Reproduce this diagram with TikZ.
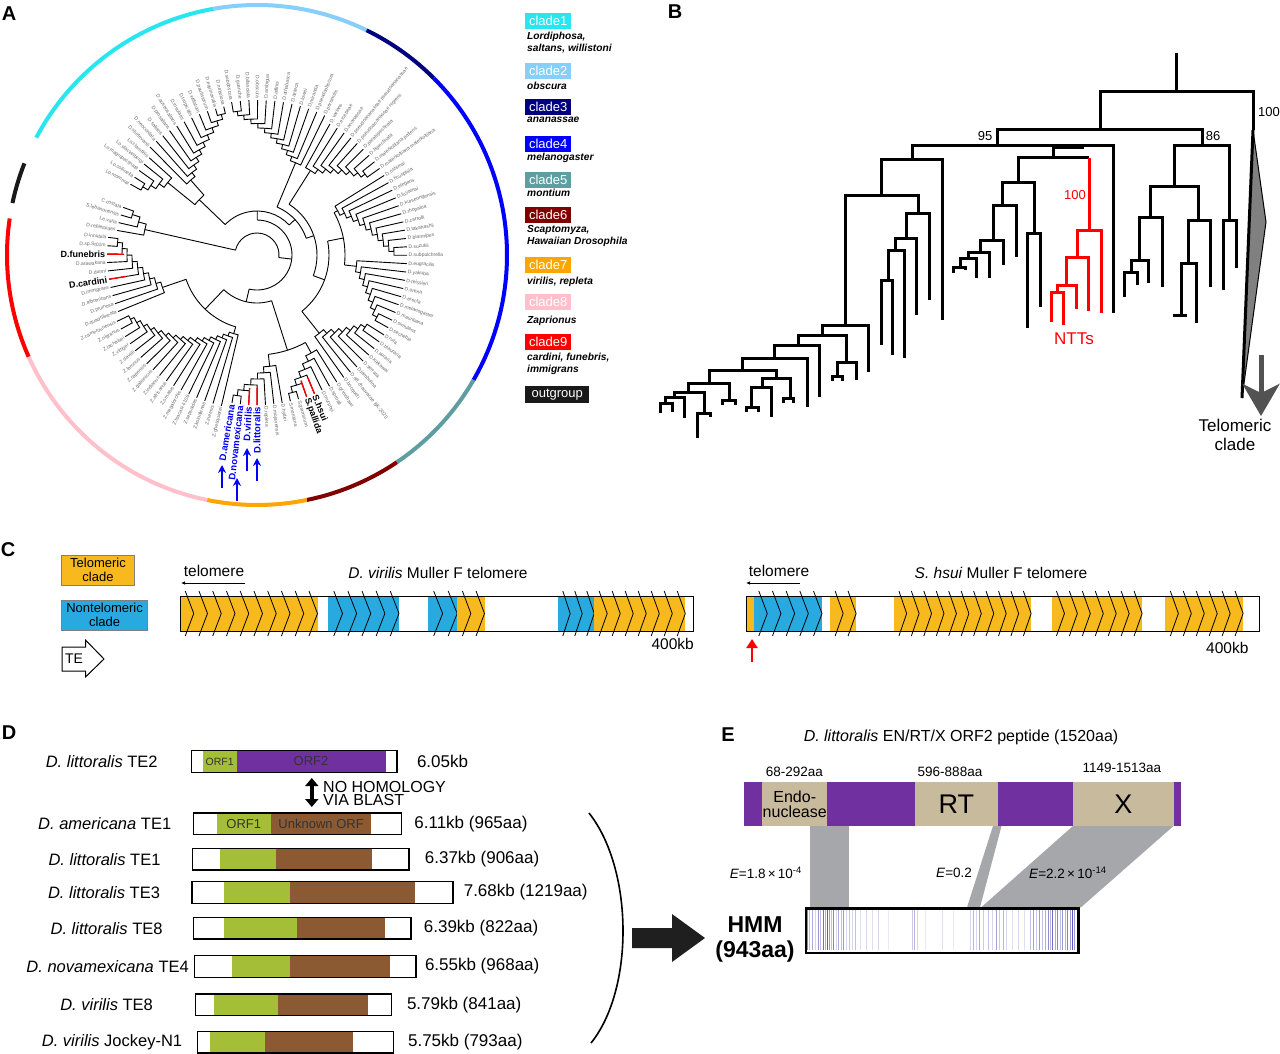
\documentclass[tikz,border=0pt]{standalone}
\usepackage{fontspec}
\setmainfont{Liberation Sans}
\usetikzlibrary{arrows.meta,positioning,calc}

\definecolor{cladeA}{RGB}{40,230,240}
\definecolor{cladeB}{RGB}{135,206,250}
\definecolor{cladeC}{RGB}{0,0,128}
\definecolor{cladeD}{RGB}{0,0,255}
\definecolor{cladeE}{RGB}{95,158,160}
\definecolor{cladeF}{RGB}{128,0,0}
\definecolor{cladeG}{RGB}{255,165,0}
\definecolor{cladeH}{RGB}{255,192,203}
\definecolor{cladeI}{RGB}{255,0,0}
\definecolor{outgrp}{RGB}{25,25,25}
\definecolor{leafgray}{RGB}{105,105,105}
\definecolor{telorange}{RGB}{247,185,30}
\definecolor{ntblue}{RGB}{40,170,225}
\definecolor{orfgreen}{RGB}{165,190,55}
\definecolor{orfbrown}{RGB}{140,90,50}
\definecolor{orfpurple}{RGB}{112,48,160}
\definecolor{domtan}{RGB}{200,186,156}
\definecolor{linkgray}{RGB}{165,167,170}
\definecolor{hmmblue}{RGB}{50,50,170}

% circular tree helpers (angles in degrees, radii in px)
\newcommand\angof[1]{\csname ang#1\endcsname}
\newcommand\comb[8]{% first angle, step, tip r, base r, dr, parent r, tag, leaves
  \xdef\cbn{0}%
  \foreach \cbnm/\cbst/\cbrd in {#8}{\xdef\cbn{\the\numexpr\cbn+1\relax}}%
  \pgfmathsetmacro\cblast{#1+(\cbn-1)*(#2)}%
  \xdef\cbprev{\cblast}%
  \xdef\cbprevr{#3}%
  \pgfmathtruncatemacro\cbnn{\cbn-1}%
  \foreach \j in {\cbnn,...,1}{%
    \pgfmathsetmacro\cbaj{#1+(\j-1)*(#2)}%
    \pgfmathsetmacro\cbrj{#4+(\j-1)*(#5)}%
    \draw[treeA] (\cbaj:#3) -- (\cbaj:\cbrj) arc[start angle=\cbaj, end angle=\cbprev, radius=\cbrj] -- (\cbprev:\cbprevr);%
    \pgfmathsetmacro\cbmj{(\cbaj+\cbprev)/2}%
    \xdef\cbprev{\cbmj}%
    \xdef\cbprevr{\cbrj}%
  }%
  \draw[treeA] (\cbprev:\cbprevr) -- (\cbprev:#6);%
  \expandafter\xdef\csname ang#7\endcsname{\cbprev}%
  \pgfmathsetmacro\cbrr{#3-17}%
  \pgfmathsetmacro\cbrl{#3+1.2}%
  \foreach \cbnm/\cbst/\cbrd [count=\i] in {#8}{%
    \pgfmathsetmacro\cba{#1+(\i-1)*(#2)}%
    \pgfmathtruncatemacro\cbleft{cos(\cba)<0.01}%
    \ifnum\cbleft=1 \def\cbanc{east}\pgfmathsetmacro\cbrot{\cba-180}\else\def\cbanc{west}\let\cbrot\cba\fi
    \ifnum\cbrd=1 \draw[treeA, draw=red, line width=1.4pt] (\cba:\cbrr) -- (\cba:#3);\fi
    \node[\cbst, anchor=\cbanc, rotate=\cbrot] (#7-\i) at (\cba:\cbrl) {\cbnm};%
  }%
}
\newcommand\jn[5]{% angle a, angle b, r, parent r, tag
  \pgfmathsetmacro\jna{#1}\pgfmathsetmacro\jnb{#2}%
  \pgfmathsetmacro\jnm{(\jna+\jnb)/2}%
  \draw[treeA] (\jna:#3) arc[start angle=\jna, end angle=\jnb, radius=#3];%
  \draw[treeA] (\jnm:#3) -- (\jnm:#4);%
  \expandafter\xdef\csname ang#5\endcsname{\jnm}%
}
% rectangular tree junction: left x, right x, bar y, left end y, right end y
\newcommand\bj[5]{\draw[treeB] (#1,#4) -- (#1,#3) -- (#2,#3) -- (#2,#5);}
\newcommand\bjr[5]{\draw[treeR] (#1,#4) -- (#1,#3) -- (#2,#3) -- (#2,#5);}
% run of TEs on a telomere track
\newcommand\terun[4]{%
  \fill[#4] (#1,596) rectangle (#2,631);
  \foreach \k in {1,...,#3}{%
    \pgfmathsetmacro\tex{#1+\k*(#2-#1)/#3}%
    \pgfmathsetmacro\tew{0.62*(#2-#1)/#3}%
    \draw[chev] (\tex-\tew,591) -- (\tex,613.5) -- (\tex-\tew,636);
  }%
}
% TE row of panel D
\newcommand\terow[9]{% tag, y, x0, x1, green from, brown from, brown to, label x, label
  \fill[orfgreen] (#5,#2-10.8) rectangle (#6,#2+10.8);
  \fill[orfbrown] (#6,#2-10.8) rectangle (#7,#2+10.8);
  \node[tebox, minimum width=#4-#3, anchor=west] (#1) at (#3,#2) {};
  \node[rowlab] (#1l) at (#8,#2) {#9};
}

\begin{document}
\begin{tikzpicture}[x=1pt, y=-1pt,
    treeA/.style={line width=0.9pt},
    treeB/.style={line width=3pt},
    treeR/.style={line width=3pt, draw=red},
    lfg/.style={font=\fontsize{5}{5}\selectfont, text=leafgray, inner sep=0.3pt},
    lfk/.style={font=\fontsize{9}{9}\selectfont\bfseries, inner sep=0.5pt},
    lfb/.style={font=\fontsize{9.5}{9.5}\selectfont\bfseries, text=blue, inner sep=0.5pt},
    panlab/.style={font=\fontsize{20}{20}\selectfont\bfseries, inner sep=0},
    cladebox/.style={anchor=north west, minimum width=46, minimum height=16, inner sep=1, text=white, font=\fontsize{13}{13}\selectfont},
    cladesub/.style={anchor=north west, inner sep=0, align=left, font=\fontsize{10.2}{12}\selectfont\bfseries\itshape},
    bluearr/.style={draw=blue, line width=1.6, -{Stealth[length=8pt, width=8pt]}},
    bnum/.style={font=\fontsize{13}{13}\selectfont, inner sep=0},
    chev/.style={line width=0.8pt, line join=miter},
    trackbox/.style={draw, line width=1pt, minimum height=35, anchor=north west, inner sep=0},
    legbox/.style={draw=gray, line width=0.8pt, align=center, inner sep=0, font=\fontsize{13}{14}\selectfont},
    secttl/.style={font=\fontsize{15.5}{15.5}\selectfont, inner sep=0},
    telarr/.style={line width=0.8pt, -{Latex[length=4pt, width=3.5pt]}},
    tebox/.style={draw, line width=1.4pt, minimum height=21.6, inner sep=0},
    rowlab/.style={font=\fontsize{16.5}{16.5}\selectfont, inner sep=0},
    sizelab/.style={font=\fontsize{17}{17}\selectfont, inner sep=0, anchor=west},
    orftxt/.style={font=\fontsize{13}{13}\selectfont, text=black!80, inner sep=0},
    dom/.style={fill=domtan, anchor=north west, inner sep=0, align=center, minimum height=44.3},
    etxt/.style={font=\fontsize{13.5}{13.5}\selectfont, inner sep=0, anchor=west},
    hmmline/.style={draw=hmmblue, line width=0.8pt}
]
\useasboundingbox (0,0) rectangle (1280,1054);
\fill[white] (0,0) rectangle (1280,1054);

% panel letters
\node[panlab] (labA) at (9,14) {A};
\node[panlab] (labB) at (675,12) {B};
\node[panlab] (labC) at (8,550) {C};
\node[panlab] (labD) at (9,733) {D};
\node[panlab] (labE) at (728,735) {E};

% ---------------- A: circular tree ----------------
\begin{scope}[shift={(257,255)}, yscale=-1]
  \foreach \c/\s/\e in {cladeA/152/100, cladeB/100/64, cladeC/64/45, cladeD/45/-30,
      cladeE/-30/-56, cladeF/-56/-78.5, cladeG/-78.5/-101.5, cladeH/-101.5/-156,
      cladeI/-156/-188.4, outgrp/-192/-201.5}
    \draw[\c, line width=4] (\s:250) arc[start angle=\s, end angle=\e, radius=250];

  % Drosophila subgenus
  \comb{279.66}{-3.21}{150}{112}{6}{100}{gs}{D.hydei/lfg/0, D.mojavensis/lfg/0, D.repleta/lfg/0,
    D.littoralis/lfb/1, D.virilis/lfb/1, D.novamexicana/lfb/0, D.americana/lfb/0}
  \comb{302.13}{-3.21}{150}{112}{6}{100}{gh}{D.grimshawi/lfg/0, D.sproati/lfg/0, D.murphyi/lfg/0,
    S.hsui/lfk/1, S.pallida/lfk/1, S.graminum/lfg/0, S.montana/lfg/0}
  \comb{202.14}{-3.21}{150}{100}{5}{75}{gcf}{D.quadrilineata/lfg/0, D.pruinosa/lfg/0,
    D.albomicans/lfg/0, D.immigrans/lfg/0, D.cardini/lfk/1, D.dunni/lfg/0, D.arawakana/lfg/0,
    D.funebris/lfk/1, D.sp.St01m/lfg/0, D.innubila/lfg/0}
  \comb{256.71}{-3.21}{155}{82}{4}{75}{gza}{Z.ghesquierei/lfg/0, Z.inermis/lfg/0,
    Z.kolodkinae/lfg/0, Z.sepsoides/lfg/0, Z.tsacasi 4106/lfg/0, Z.megalorchis/lfg/0,
    Z.ornatus/lfg/0, Z.africanus/lfg/0, Z.indianus/lfg/0, Z.gabonicus/lfg/0, Z.capensis/lfg/0,
    Z.taronus/lfg/0, Z.davidi/lfg/0, Z.vittiger/lfg/0, Z.lachaisei/lfg/0, Z.nigranus/lfg/0,
    Z.camerounensis/lfg/0}
  \jn{\angof{gcf}}{\angof{gza}}{75}{48}{mf}
  \jn{\angof{gs}}{\angof{gh}}{100}{48}{mg}
  \jn{\angof{mf}}{\angof{mg}}{48}{35}{dros}

  % Sophophora
  \comb{-54.66}{3.21}{150}{100}{5}{72}{gm}{D.bocqueti/lfg/0, D.aff.chauvacae BK-2020/lfg/0,
    D.jambulina/lfg/0, D.serrata/lfg/0, D.kikkawai/lfg/0, D.auraria/lfg/0, D.triauraria/lfg/0,
    D.rufa/lfg/0}
  \comb{-3.3}{-3.21}{150}{100}{5}{88}{gma}{D.eugracilis/lfg/0, D.yakuba/lfg/0, D.teissieri/lfg/0,
    D.orena/lfg/0, D.erecta/lfg/0, D.melanogaster/lfg/0, D.mauritiana/lfg/0, D.simulans/lfg/0,
    D.sechellia/lfg/0}
  \comb{32.01}{-3.21}{150}{92}{5}{88}{gmb}{D.oshimai/lfg/0, D.ficusphila/lfg/0, D.elegans/lfg/0,
    D.fuyamai/lfg/0, D.kurseongensis/lfg/0, D.rhopaloa/lfg/0, D.carrolli/lfg/0,
    D.takahashii/lfg/0, D.biarmipes/lfg/0, D.suzukii/lfg/0, D.subpulchrella/lfg/0}
  \jn{\angof{gma}}{\angof{gmb}}{88}{72}{ma}
  \jn{\angof{gm}}{\angof{ma}}{72}{60}{mb}
  \comb{60.9}{-3.21}{150}{100}{5}{60}{gan}{D.varians/lfg/0, D.ercepeae/lfg/0, D.ananassae/lfg/0,
    D.pseudoananassae pseudoananassae/lfg/0, D.pseudoananassae nigrens/lfg/0,
    D.parabipectinata/lfg/0, D.bipectinata/lfg/0, D.malerkotliana pallens/lfg/0,
    D.malerkotliana malerkotliana/lfg/0}
  \jn{\angof{mb}}{\angof{gan}}{60}{52}{mc}
  \comb{64.11}{3.21}{155}{100}{4.5}{52}{gob}{D.persimilis/lfg/0, D.pseudoobscura/lfg/0,
    D.miranda/lfg/0, D.lowei/lfg/0, D.azteca/lfg/0, D.athabasca/lfg/0, D.affinis/lfg/0,
    D.ambigua/lfg/0, D.obscura/lfg/0, D.bifasciata/lfg/0, D.guanche/lfg/0, D.subobscura/lfg/0}
  \jn{\angof{mc}}{\angof{gob}}{52}{44}{md}
  \comb{134.73}{-3.21}{152}{100}{5}{80}{gwi}{D.sturtevanti/lfg/0, D.neocordata/lfg/0,
    D.saltans/lfg/0, D.prosaltans/lfg/0, D.austrosaltans/lfg/0, D.insularis/lfg/0,
    D.tropicalis/lfg/0, D.willistoni/lfg/0, D.paulistorum/lfg/0, D.equinoxialis/lfg/0,
    D.nebulosa/lfg/0}
  \comb{137.94}{3.21}{145}{115}{6}{80}{glo}{Lo.clarofinis/lfg/0, Lo.stackelbergi/lfg/0,
    Lo.magnipectinata/lfg/0, Lo.collinella/lfg/0, Lo.mommai/lfg/0}
  \jn{\angof{gwi}}{\angof{glo}}{80}{44}{me}
  \jn{\angof{md}}{\angof{me}}{44}{35}{soph}

  % ingroup, outgroup and root
  \pgfmathsetmacro\drw{\angof{dros}-360}
  \jn{\angof{soph}}{\drw}{35}{22}{ing}
  \comb{170.04}{-3.21}{142}{115}{8}{22}{gog}{D.repletoides/lfg/0, Le.varia/lfg/0,
    S.lebanonensis/lfg/0, C.costata/lfg/0}
  \pgfmathsetmacro\rta{\angof{gog}}
  \pgfmathsetmacro\rtb{\angof{ing}}
  \draw[treeA] (\rta:22) arc[start angle=\rta, end angle=\rtb, radius=22];
\end{scope}

% blue arrows to the virilis TEs
\coordinate (arAs) at (222,488); \coordinate (arAe) at (222,465);
\coordinate (arBs) at (237,501); \coordinate (arBe) at (237,478);
\coordinate (arCs) at (247,471); \coordinate (arCe) at (247,448);
\coordinate (arDs) at (257,481); \coordinate (arDe) at (257,458);
\foreach \a in {A,B,C,D} \draw[bluearr] (ar\a s) -- (ar\a e);

% clade legend
\node[cladebox, fill=cladeA] (cl1) at (525,13) {clade1};
\node[cladesub] (cl1t) at (527,32) {Lordiphosa,\\saltans, willistoni};
\node[cladebox, fill=cladeB] (cl2) at (525,63) {clade2};
\node[cladesub] (cl2t) at (527,81.5) {obscura};
\node[cladebox, fill=cladeC] (cl3) at (525,99) {clade3};
\node[cladesub] (cl3t) at (527,117) {ananassae};
\node[cladebox, fill=cladeD] (cl4) at (525,135.5) {clade4};
\node[cladesub] (cl4t) at (527,153) {melanogaster};
\node[cladebox, fill=cladeE] (cl5) at (525,171.5) {clade5};
\node[cladesub] (cl5t) at (527,188.5) {montium};
\node[cladebox, fill=cladeF] (cl6) at (525,207) {clade6};
\node[cladesub] (cl6t) at (527,225.5) {Scaptomyza,\\Hawaiian Drosophila};
\node[cladebox, fill=cladeG] (cl7) at (525,257) {clade7};
\node[cladesub] (cl7t) at (527,276.5) {virilis, repleta};
\node[cladebox, fill=cladeH] (cl8) at (525,294) {clade8};
\node[cladesub] (cl8t) at (527,315.5) {Zaprionus};
\node[cladebox, fill=cladeI] (cl9) at (525,334) {clade9};
\node[cladesub] (cl9t) at (527,353) {cardini, funebris,\\immigrans};
\node[cladebox, fill=outgrp, minimum width=64, minimum height=17] (cl10) at (525,386) {outgroup};

% ---------------- B: rectangular tree ----------------
\draw[treeB] (1176,53) -- (1176,92);
\bj{1100}{1253}{92}{130}{130}
\filldraw[fill=gray, draw=black, line width=1pt] (1253,130) -- (1266,222) -- (1242,398) -- cycle;
\draw[treeB] (1253,130) -- (1242,398);
\node[bnum, anchor=west] (b100) at (1258,112) {100};
\bj{997}{1202}{130}{146}{146}
\node[bnum] (b95) at (985,136) {95};
\node[bnum] (b86) at (1213,136) {86};
% 95 clade
\bj{912}{1113}{146}{160}{313}
\draw[treeB] (1053,146) -- (1053,158);
\draw[line width=5pt] (1053,147) -- (1084,147);
\draw[treeB] (1018,182) -- (1018,158) -- (1089,158);
\draw[treeR] (1089,158) -- (1089,230);
\bjr{1077}{1101}{230}{257}{313}
\bjr{1066}{1088}{257}{285}{311}
\bjr{1057}{1076}{285}{292}{309}
\bjr{1051}{1063}{292}{322}{325}
\node[bnum, text=red, anchor=east] (r100) at (1086,195) {100};
\node[font=\fontsize{17}{17}\selectfont, text=red, inner sep=0] (ntt) at (1074,339) {NTTs};
\bj{1002}{1034}{182}{205}{233}
\bj{1027}{1040}{233}{328}{307}
\bj{993}{1016}{205}{240}{257}
\bj{980}{1003}{240}{252}{265}
\bj{968}{989}{252}{258}{278}
\bj{960}{976}{258}{267}{278}
\bj{953}{965}{267}{273}{270}
\bj{881}{942}{160}{195}{320}
\bj{845}{918}{195}{325}{213}
\bj{906}{929}{213}{238}{300}
\bj{895}{916}{238}{250}{315}
\bj{888}{904}{250}{280}{358}
\bj{881}{892}{280}{345}{355}
\bj{822}{868}{325}{335}{372}
\bj{798}{846}{335}{345}{362}
\bj{837}{856}{362}{376}{380}
\bj{832}{842}{376}{381}{381}
\bj{774}{819}{345}{358}{397}
\bj{742}{807}{358}{370}{407}
\bj{709}{776}{370}{383}{378}
\bj{762}{790}{378}{387}{398}
\bj{783}{793}{398}{403}{403}
\bj{751}{771}{387}{407}{417}
\bj{746}{758}{407}{412}{412}
\bj{688}{729}{383}{392}{400}
\bj{722}{735}{400}{405}{405}
\bj{674}{704}{392}{397}{413}
\bj{697}{710}{413}{438}{417}
\bj{665}{684}{397}{403}{418}
\bj{660}{672}{403}{413}{412}
% 86 clade
\bj{1174}{1229}{146}{186}{220}
\bj{1223}{1236}{220}{290}{268}
\bj{1150}{1198}{186}{217}{220}
\bj{1188}{1210}{220}{263}{287}
\bj{1181}{1196}{263}{315}{323}
\draw[treeB] (1173,315) -- (1187,315);
\bj{1139}{1162}{217}{260}{287}
\bj{1131}{1148}{260}{272}{283}
\bj{1124}{1137}{272}{297}{285}
% telomeric clade pointer
\coordinate (gaS) at (1261,355);
\coordinate (gaE) at (1261,416);
\draw[draw=black!68, line width=5pt, -{Stealth[length=32pt, width=37pt, inset=9pt]}] (gaS) -- (gaE);
\node[align=center, font=\fontsize{17}{19}\selectfont, inner sep=0] (telc) at (1235,435) {Telomeric\\clade};

% ---------------- C: telomere tracks ----------------
\node[legbox, fill=telorange, minimum width=73, minimum height=30] (legT) at (98,570) {Telomeric\\clade};
\node[legbox, fill=ntblue, minimum width=86, minimum height=30] (legN) at (104.6,615) {Nontelomeric\\clade};
\draw[line width=1pt, line join=miter] (62,647) -- (85.5,647) -- (85.5,640) -- (104,659) -- (85.5,677) -- (85.5,671) -- (62,671) -- cycle;
\node[font=\fontsize{14}{14}\selectfont, inner sep=0] (legTE) at (74,659) {TE};

\node[secttl] (vtitle) at (438,573) {\textit{D. virilis} Muller F telomere};
\node[secttl] (vtel) at (214,571) {telomere};
\coordinate (vtelS) at (245,583); \coordinate (vtelE) at (181,583);
\draw[telarr] (vtelS) -- (vtelE);
\terun{180}{317.5}{10}{telorange}
\terun{328.4}{399}{5}{ntblue}
\terun{428.1}{457.2}{2}{ntblue}
\terun{457.2}{484.5}{2}{telorange}
\terun{558.2}{594.2}{3}{ntblue}
\terun{594.2}{685.3}{7}{telorange}
\node[trackbox, minimum width=513] (vtrack) at (180,596) {};
\node[secttl, anchor=north east] (vkb) at ([yshift=-6pt]vtrack.south east) {400kb};

\node[secttl] (htitle) at (1001,573) {\textit{S. hsui} Muller F telomere};
\node[secttl] (htel) at (779,571) {telomere};
\coordinate (htelS) at (800,583); \coordinate (htelE) at (746,583);
\draw[telarr] (htelS) -- (htelE);
\fill[telorange] (746.2,596) rectangle (753.6,631);
\terun{753.6}{822}{5}{ntblue}
\terun{830.2}{856.1}{2}{telorange}
\terun{894.2}{1031.1}{11}{telorange}
\terun{1051.5}{1142.1}{7}{telorange}
\terun{1165.4}{1243.1}{6}{telorange}
\node[trackbox, minimum width=512.4] (htrack) at (746.2,596) {};
\node[secttl, anchor=north east] (hkb) at ([yshift=-10pt,xshift=-11pt]htrack.south east) {400kb};
\coordinate (raS) at (752,662); \coordinate (raE) at (752,639);
\draw[draw=red, line width=2.8pt, -{Triangle[length=9pt, width=11pt]}] (raS) -- (raE);

% ---------------- D: TE structures ----------------
\fill[orfgreen] (202.7,750.7) rectangle (236.7,772.3);
\fill[orfpurple] (236.7,750.7) rectangle (385.8,772.3);
\node[tebox, minimum width=205.6, anchor=west] (r1) at (190.8,761.5) {};
\node[rowlab] (r1l) at (101.7,761.5) {\textit{D. littoralis} TE2};
\node[orftxt, font=\fontsize{10.5}{10.5}\selectfont] (r1a) at (219.7,761.5) {ORF1};
\node[orftxt] (r1b) at (311,761.5) {ORF2};
\node[sizelab, right=19pt of r1] (r1s) {6.05kb};

\coordinate (nhA) at (311.8,778); \coordinate (nhB) at (311.8,807);
\draw[line width=4pt, {Triangle[length=8pt, width=13pt]}-{Triangle[length=8pt, width=13pt]}] (nhA) -- (nhB);
\node[font=\fontsize{16}{16}\selectfont, inner sep=0, anchor=west] (nh1) at (323,787) {NO HOMOLOGY};
\node[font=\fontsize{16}{16}\selectfont, inner sep=0, anchor=west] (nh2) at (323,800) {VIA BLAST};

\terow{r2}{823.7}{192.8}{400.8}{216.5}{271.1}{371.1}{104.7}{\textit{D. americana} TE1}
\node[orftxt] (r2a) at (243.8,823.7) {ORF1};
\node[orftxt] (r2b) at (321.1,823.7) {Unknown ORF};
\node[sizelab, right=12pt of r2] (r2s) {6.11kb (965aa)};
\terow{r3}{859.2}{192}{408.3}{219.7}{275.8}{371.9}{104.5}{\textit{D. littoralis} TE1}
\node[sizelab, right=15pt of r3] (r3s) {6.37kb (906aa)};
\terow{r4}{892.5}{191.2}{452.2}{224.4}{290.1}{414.6}{104}{\textit{D. littoralis} TE3}
\node[sizelab, right=10pt of r4] (r4s) {7.68kb (1219aa)};
\terow{r5}{928.2}{192.8}{410.3}{223.6}{297.2}{385}{106.6}{\textit{D. littoralis} TE8}
\node[sizelab, right=12pt of r5] (r5s) {6.39kb (822aa)};
\terow{r6}{966.5}{194}{415.4}{232.3}{290.1}{389.7}{107.6}{\textit{D. novamexicana} TE4}
\node[sizelab, right=8pt of r6] (r6s) {6.55kb (968aa)};
\terow{r7}{1004.8}{194.8}{390.9}{213.8}{277.8}{368}{106.6}{\textit{D. virilis} TE8}
\node[sizelab, right=14.5pt of r7] (r7s) {5.79kb (841aa)};
\terow{r8}{1042.3}{196.8}{392.5}{209.8}{265.2}{352.9}{112}{\textit{D. virilis} Jockey-N1}
\node[sizelab, right=14pt of r8] (r8s) {5.75kb (793aa)};

\coordinate (brA) at (589,813); \coordinate (brB) at (591,1043);
\draw[line width=1.6pt] (brA) .. controls (634,870) and (634,990) .. (brB);
\fill[black!88] (632,928) -- (672,928) -- (672,914) -- (705,938) -- (672,962) -- (672,948) -- (632,948) -- cycle;

% ---------------- E: ORF2 domains vs HMM ----------------
\node[font=\fontsize{16}{16}\selectfont, inner sep=0] (etitle) at (961,737) {\textit{D. littoralis} EN/RT/X ORF2 peptide (1520aa)};
\fill[linkgray] (809.5,826) rectangle (849.1,907.3);
\fill[linkgray] (993,826) -- (1001.5,826) -- (980,907.3) -- (967,907.3) -- cycle;
\fill[linkgray] (1072.9,826) -- (1173.5,826) -- (1081,907.3) -- (981.2,907.3) -- cycle;
\fill[orfpurple] (743.7,781.7) rectangle (1181,826);
\node[dom, minimum width=64.7, font=\fontsize{16}{15}\selectfont] (endo) at (762.2,781.7) {Endo-\\nuclease};
\node[dom, minimum width=83.2, font=\fontsize{27}{27}\selectfont] (rt) at (914.6,781.7) {RT};
\node[dom, minimum width=100.6, font=\fontsize{27}{27}\selectfont] (xd) at (1072.9,781.7) {X};
\node[font=\fontsize{13.5}{13.5}\selectfont, inner sep=0] (endoaa) at (794.3,771.7) {68-292aa};
\node[font=\fontsize{13.5}{13.5}\selectfont, inner sep=0] (rtaa) at (950,771.7) {596-888aa};
\node[font=\fontsize{13.5}{13.5}\selectfont, inner sep=0] (xaa) at (1121.8,767.7) {1149-1513aa};
\node[etxt] (e1) at (729.6,873) {\textit{E}=1.8\,×\,10\textsuperscript{-4}};
\node[etxt] (e2) at (936,873) {\textit{E}=0.2};
\node[etxt] (e3) at (1029,873) {\textit{E}=2.2\,×\,10\textsuperscript{-14}};

\fill[white] (804.7,907.3) rectangle (1077.4,951.7);
\foreach \x/\o in {807/.6, 809/.3, 812/.4, 815/.2, 818/.5, 820/.3, 823/.7, 825/.4, 827/.8,
    829/.5, 831/.3, 833/.6, 836/.2, 838/.4, 841/.3, 843/.5, 846/.2, 849/.3, 852/.2, 855/.3,
    860/.15, 866/.2, 872/.15, 878/.2, 888/.1, 912/.25, 914/.35, 917/.2, 925/.1, 942/.15,
    953/.1, 970/.2, 973/.35, 976/.2, 979/.4, 983/.25, 988/.3, 992/.2, 996/.45, 999/.25,
    1003/.35, 1006/.2, 1012/.15, 1018/.2, 1024/.15, 1030/.3, 1033/.45, 1036/.25, 1039/.5,
    1042/.3, 1045/.4, 1048/.55, 1050/.35, 1052/.7, 1055/.4, 1057/.6, 1060/.3, 1062/.5,
    1065/.35, 1067/.6, 1070/.45, 1072/.8, 1074/.5}
  \draw[hmmline, opacity=\o] (\x,909) -- (\x,950);
\node[draw, line width=2.6pt, minimum width=272.7, minimum height=44.4, anchor=north west, inner sep=0] (hmm) at (804.7,907.3) {};
\node[align=center, font=\fontsize{23}{25}\selectfont\bfseries, inner sep=0] (hmmlab) at (755,939) {HMM\\(943aa)};
\end{tikzpicture}
\end{document}
